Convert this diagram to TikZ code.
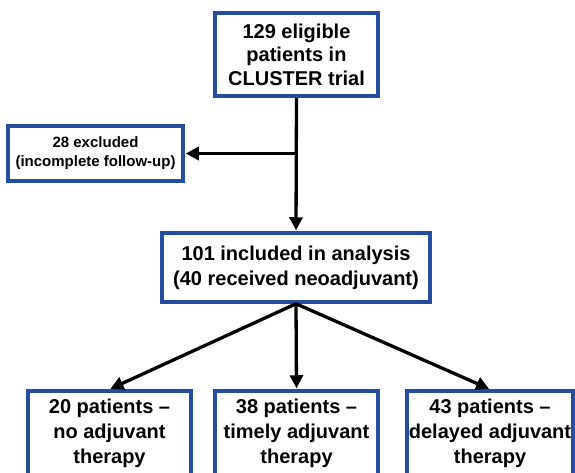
\documentclass[tikz,border=0pt]{standalone}
\usepackage{fontspec}
\setmainfont{Liberation Sans}
\usetikzlibrary{arrows.meta,positioning}
\definecolor{boxblue}{RGB}{38,78,158}

\begin{document}
\begin{tikzpicture}[
  x=1pt, y=-1pt,
  font=\bfseries\fontsize{20}{25}\selectfont,
  >={Triangle[length=13pt,width=13pt]},
  box/.style={draw=boxblue, line width=3.5pt, fill=white, align=center, inner sep=0pt},
  smallbox/.style={box, font=\bfseries\fontsize{15}{19}\selectfont},
  flow/.style={->, line width=3.3pt, shorten >=1pt}
]
\clip (0,0) rectangle (575,472);

\node[box, minimum width=163pt, minimum height=83pt,
  font=\bfseries\fontsize{20}{23.5}\selectfont] (eligible) at (296.5,54.5)
  {129 eligible\\patients in\\CLUSTER trial};
\node[smallbox, minimum width=175pt, minimum height=55pt] (excluded) at (95.5,153.5)
  {28 excluded\\(incomplete follow-up)};
\node[box, minimum width=268pt, minimum height=69pt] (included) at (296,267.5)
  {101 included in analysis\\(40 received neoadjuvant)};

\node[box, minimum width=163pt, minimum height=85pt] (noadj) at (109.5,433.5)
  {20 patients --\\no adjuvant\\therapy};
\node[box, minimum width=163pt, minimum height=85pt] (timely) at (296.5,433.5)
  {38 patients --\\timely adjuvant\\therapy};
\node[box, minimum width=166pt, minimum height=85pt] (delayed) at (490,433.5)
  {43 patients --\\delayed adjuvant\\therapy};

% main line and exclusion branch
\coordinate (split) at (eligible.south |- excluded.east);
\draw[flow] (eligible.south) -- (included.north);
\draw[flow] (split) -- (excluded.east);

% groups
\draw[flow] (included.south) -- (noadj.north);
\draw[flow] (included.south) -- (timely.north);
\draw[flow] (included.south) -- (delayed.north);
\end{tikzpicture}
\end{document}
